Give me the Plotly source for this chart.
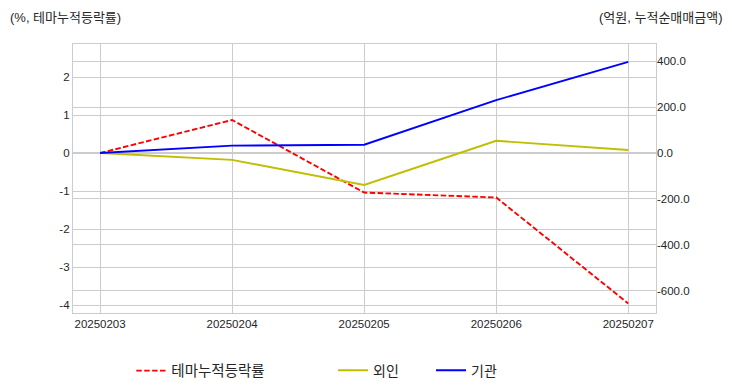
import plotly.graph_objects as go

dates = ["20250203", "20250204", "20250205", "20250206", "20250207"]
theme_rate = [0.0, 0.87, -1.04, -1.17, -3.96]
foreign = [0.0, -30.0, -139.0, 53.0, 13.0]
institution = [0.0, 32.0, 36.0, 230.0, 396.0]

left_ticks = [-4, -3, -2, -1, 0, 1, 2]
left_labels = ["-4", "-3", "-2", "-1", "0", "1", "2"]
right_ticks = [-600, -400, -200, 0, 200, 400]
right_labels = ["-600.0", "-400.0", "-200.0", "0.0", "200.0", "400.0"]

FONT = "Liberation Sans, Arial, Noto Sans CJK KR, sans-serif"
GRID = "#cccccc"

fig = go.Figure()
fig.add_trace(go.Scatter(x=dates, y=theme_rate, name="테마누적등락률", mode="lines",
                         line=dict(color="#ff0000", width=1.9, dash="5.5px,2.4px"),
                         yaxis="y", legend="legend"))
fig.add_trace(go.Scatter(x=dates, y=foreign, name="외인", mode="lines",
                         line=dict(color="#bfbf00", width=1.9),
                         yaxis="y2", legend="legend2"))
fig.add_trace(go.Scatter(x=dates, y=institution, name="기관", mode="lines",
                         line=dict(color="#0000ff", width=1.9),
                         yaxis="y2", legend="legend2"))

fig.update_layout(
    width=732, height=392,
    margin=dict(l=73, r=76, t=44, b=79, autoexpand=False),
    paper_bgcolor="white", plot_bgcolor="white",
    font=dict(family=FONT, size=11.5, color="#262626"),
    xaxis=dict(type="category", range=[-0.205, 4.21], showgrid=True, gridcolor=GRID,
               gridwidth=1, showline=True, mirror=True, linecolor=GRID, linewidth=1.3,
               ticks="", tickfont=dict(size=11.5), zeroline=False),
    yaxis=dict(range=[-4.21, 2.87], tickvals=left_ticks, ticktext=left_labels,
               showgrid=True, gridcolor=GRID,
               gridwidth=1, showline=True, mirror=True, linecolor=GRID, linewidth=1.3,
               ticks="", zeroline=False, tickfont=dict(size=11.5)),
    yaxis2=dict(range=[-696, 474], tickvals=right_ticks, ticktext=right_labels,
                overlaying="y", side="right", showgrid=True, gridcolor=GRID, gridwidth=1,
                ticks="", zeroline=False, showline=False, tickfont=dict(size=11.5)),
    legend=dict(orientation="h", x=0.1, xanchor="left", y=-0.155, yanchor="top",
                font=dict(size=14.5), bgcolor="rgba(0,0,0,0)"),
    legend2=dict(orientation="h", x=0.446, xanchor="left", y=-0.155, yanchor="top",
                 font=dict(size=14), bgcolor="rgba(0,0,0,0)", entrywidth=53),
    showlegend=True,
    annotations=[
        dict(text="(%, 테마누적등락률)", xref="paper", yref="paper", x=-0.112, y=1.1,
             xanchor="left", yanchor="middle", showarrow=False, font=dict(size=13)),
        dict(text="(억원, 누적순매매금액)", xref="paper", yref="paper", x=1.118, y=1.1,
             xanchor="right", yanchor="middle", showarrow=False, font=dict(size=13)),
    ],
)

fig.write_html("out.html", config={"displayModeBar": False},
               post_script="document.body.style.margin='0';")
